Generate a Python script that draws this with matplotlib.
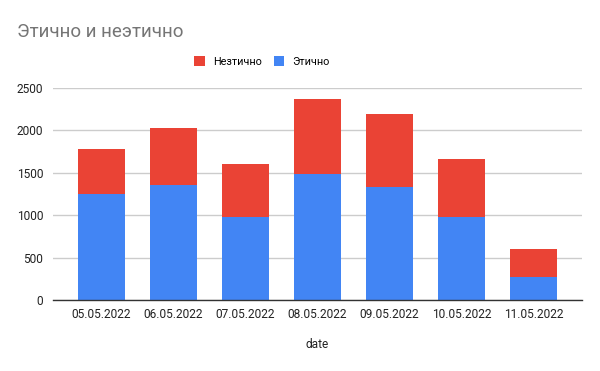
import matplotlib
matplotlib.use("Agg")
import matplotlib.pyplot as plt
from matplotlib.patches import Patch
import numpy as np

plt.rcParams['font.family'] = ['Roboto', 'DejaVu Sans']

dates = ["05.05.2022", "06.05.2022", "07.05.2022", "08.05.2022",
         "09.05.2022", "10.05.2022", "11.05.2022"]
ethical = [1252, 1354, 980, 1488, 1327, 980, 272]
unethical = [528, 674, 622, 882, 870, 681, 326]
yticks = [0, 500, 1000, 1500, 2000, 2500]

blue = "#4285F4"
red = "#EA4335"

fig = plt.figure(figsize=(6, 3.71), dpi=100)
ax = fig.add_axes([53/600, 1-300/371, (582-53)/600, (300-88)/371])

x = np.arange(len(dates))
ax.bar(x, ethical, width=0.65, color=blue, zorder=3, label="Этично")
ax.bar(x, unethical, width=0.65, bottom=ethical, color=red, zorder=3, label="Незтично")

ax.set_xlim(-0.674, 6.674)
ax.set_ylim(0, 2500)
ax.set_yticks(yticks)
ax.set_yticklabels([str(v) for v in yticks])
ax.set_xticks(x)
ax.set_xticklabels(dates)
ax.grid(axis='y', color='#cccccc', linewidth=1, zorder=0)
for s in ['top', 'right', 'left']:
    ax.spines[s].set_visible(False)
ax.spines['bottom'].set_color('#333333')
ax.spines['bottom'].set_linewidth(1)
ax.spines['bottom'].set_zorder(4)
ax.tick_params(axis='both', length=0, labelsize=8.6, colors='#222222')
ax.tick_params(axis='y', pad=7)
ax.tick_params(axis='x', pad=6)
ax.set_xlabel("date", fontsize=8.6, color='#222222', labelpad=12)

fig.text(17/600, 1-32/371, "Этично и неэтично", fontsize=13.5, color='#757575',
         ha='left', va='center')

handles = [Patch(facecolor=red, edgecolor='none', label="Незтично"),
           Patch(facecolor=blue, edgecolor='none', label="Этично")]
fig.legend(handles=handles, loc='center', bbox_to_anchor=(262/600, 1-61.5/371),
           ncol=2, frameon=False, fontsize=7.8, handlelength=0.95, handleheight=0.95,
           handletextpad=0.75, columnspacing=1.15)

fig.savefig("out.png", dpi=100, facecolor='white')
